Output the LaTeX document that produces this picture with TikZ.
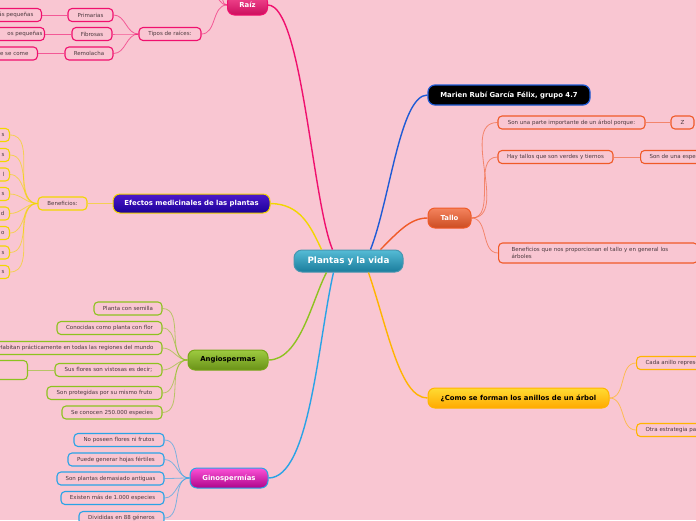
\documentclass[tikz,border=0pt]{standalone}
\usepackage{fontspec}
\setmainfont{DejaVu Sans}
\usetikzlibrary{calc}
\definecolor{bg}{HTML}{F9C6D2}
\definecolor{leaftext}{HTML}{4A383D}
\definecolor{pinkc}{HTML}{F0106E}
\definecolor{yelc}{HTML}{F2D600}
\definecolor{bluec}{HTML}{1E5BD6}
\definecolor{orc}{HTML}{F05A28}
\definecolor{greenc}{HTML}{8DC21F}
\definecolor{skyc}{HTML}{29A3E6}
\definecolor{goldc}{HTML}{FFB400}
\definecolor{teal1}{HTML}{55BCD6}
\definecolor{teal2}{HTML}{1A7C9C}
\tikzset{
  leafbox/.style={draw, line width=1.1pt, rounded corners=4pt, fill=bg, inner sep=0pt,
    minimum height=13pt, text=leaftext, font=\fontsize{5.5}{6.5}\selectfont},
  topic/.style={rounded corners=7pt, line width=1pt, inner sep=0pt, minimum height=20pt,
    font=\bfseries\fontsize{6.9}{8}\selectfont},
  mainlink/.style={line width=1.4pt},
  sublink/.style={line width=0.8pt, opacity=0.6},
}
\begin{document}
\begin{tikzpicture}[x=1pt,y=-1pt]
\useasboundingbox (0,0) rectangle (696,520);
\clip (0,0) rectangle (696,520);
\fill[bg] (0,0) rectangle (696,520);

% ---------- main ----------
\node[topic, top color=teal1, bottom color=teal2, draw=teal2!80!white, text=white,
  minimum width=109pt, minimum height=22pt, rounded corners=8pt,
  font=\bfseries\fontsize{8.8}{10}\selectfont] (main) at (348.5,261) {Plantas y la vida};

% ---------- Raiz ----------
\node[topic, top color=pinkc!75!white, bottom color=pinkc!85!black, draw=pinkc, text=white,
  minimum width=40pt] (raiz) at (247.5,5) {Raíz};
\node[leafbox, draw=pinkc, minimum width=62pt] (tipos) at (170,34) {Tipos de raíces:};
\node[leafbox, draw=pinkc, minimum width=45pt] (prim) at (90.5,15) {Primarias};
\node[leafbox, draw=pinkc, minimum width=40pt] (fib) at (92,34) {Fibrosas};
\node[leafbox, draw=pinkc, minimum width=48pt] (rem) at (89,53.5) {Remolacha};
\node[leafbox, draw=pinkc, anchor=east, text width=60pt, align=right, inner xsep=8pt] (r1) at (42,15) {ás pequeñas};
\node[leafbox, draw=pinkc, anchor=east, text width=60pt, align=right, inner xsep=2pt] (r2) at (45,34) {os pequeñas};
\node[leafbox, draw=pinkc, anchor=east, text width=60pt, align=right, inner xsep=9pt] (r3) at (38,53.5) {e se come};
\coordinate (rup1) at (212,-8);
\coordinate (rup2) at (220,-8);

% ---------- Marien ----------
\node[topic, fill=black, draw=bluec, line width=1.2pt, text=white, minimum width=162pt] (marien) at (509,95) {Marien Rubí García Félix, grupo 4.7};

% ---------- Tallo ----------
\node[topic, top color=orc!75!white, bottom color=orc!85!black, draw=orc, text=white,
  minimum width=43pt] (tallo) at (449.5,218) {Tallo};
\node[leafbox, draw=orc, minimum width=147pt] (t1) at (571.5,122.5) {Son una parte importante de un árbol porque:};
\node[leafbox, draw=orc, minimum width=23pt] (t1a) at (682.5,122.5) {Z};
\node[leafbox, draw=orc, minimum width=115pt] (t2) at (555.5,157) {Hay tallos que son verdes y tiernos};
\node[leafbox, draw=orc, anchor=west, text width=80pt, align=left, inner xsep=9pt] (t2a) at (640,157) {Son de una espe};
\node[leafbox, draw=orc, anchor=west, text width=173pt, align=left, inner xsep=13pt,
  minimum height=20pt, font=\fontsize{5.5}{6.6}\selectfont] (t3) at (498,253)
  {Beneficios que nos proporcionan el tallo y en general los\\árboles};

% ---------- Anillos ----------
\node[topic, top color=goldc!60!yellow!80!white, bottom color=goldc!80!orange, draw=goldc, text=black,
  minimum width=181pt] (anillos) at (518.5,398) {¿Como se forman los anillos de un árbol};
\node[leafbox, draw=goldc, anchor=west, text width=80pt, align=left, inner xsep=9pt] (a1) at (636,363) {Cada anillo represe};
\node[leafbox, draw=goldc, anchor=west, text width=80pt, align=left, inner xsep=9pt] (a2) at (636,430) {Otra estrategia pa};

% ---------- Efectos ----------
\node[topic, top color=blue!55!violet!90!white, bottom color=blue!70!violet!70!black, draw=yelc, text=white,
  minimum width=157pt, minimum height=19pt] (efectos) at (191.5,203.5) {Efectos medicinales de las plantas};
\node[leafbox, draw=yelc, minimum width=49pt] (benef) at (62.5,203.5) {Beneficios:};
\foreach \i/\yy/\t in {1/135/s,2/155/s,3/174.5/l,4/194/s,5/213.5/d,6/233/o,7/252.5/s,8/272/s}{
  \node[leafbox, draw=yelc, anchor=east, text width=40pt, align=right, inner xsep=5pt] (e\i) at (10,\yy) {\t};
}

% ---------- Angiospermas ----------
\node[topic, top color=greenc!85!white, bottom color=greenc!75!black, draw=greenc!85!black, text=black,
  minimum width=80pt] (angio) at (228,360) {Angiospermas};
\node[leafbox, draw=greenc, minimum width=68pt] (g1) at (128,308.5) {Planta con semilla};
\node[leafbox, draw=greenc, minimum width=105pt] (g2) at (109.5,328) {Conocidas como planta con flor};
\node[leafbox, draw=greenc, minimum width=172pt] (g3) at (76,348) {Habitan prácticamente en todas las regiones del mundo};
\node[leafbox, draw=greenc, minimum width=107pt] (g4) at (108.5,370) {Sus flores son vistosas es decir;};
\node[leafbox, draw=greenc, anchor=east, minimum width=60pt, minimum height=19pt] (g4a) at (28,370) {};
\node[leafbox, draw=greenc, minimum width=115pt] (g5) at (104.5,393) {Son protegidas por su mismo fruto};
\node[leafbox, draw=greenc, minimum width=100pt] (g6) at (112,412.5) {Se conocen 250.000 especies};

% ---------- Ginospermias ----------
\node[topic, top color=magenta!60!pinkc!70!white, bottom color=magenta!60!pinkc!70!black, draw=skyc, text=white,
  minimum width=78pt] (gino) at (229,478) {Ginospermías};
\node[leafbox, draw=skyc, minimum width=90pt] (n1) at (119,440) {No poseen flores ni frutos};
\node[leafbox, draw=skyc, minimum width=96pt] (n2) at (116,459.5) {Puede generar hojas fértiles};
\node[leafbox, draw=skyc, minimum width=107pt] (n3) at (110.5,478.5) {Son plantas demasiado antiguas};
\node[leafbox, draw=skyc, minimum width=103pt] (n4) at (112.5,498) {Existen más de 1.000 especies};
\node[leafbox, draw=skyc, minimum width=85pt] (n5) at (121.5,518) {Divididas en 88 géneros};

% ---------- main links ----------
\draw[mainlink, pinkc] ($(main.north)+(-16,0)$) .. controls (312,200) and (302,6) .. (raiz.east);
\draw[mainlink, yelc] ($(main.north)+(-27,0)$) .. controls (310,225) and (300,204) .. (efectos.east);
\draw[mainlink, bluec] ($(main.north)+(22,0)$) .. controls (390,200) and (400,95) .. (marien.west);
\draw[mainlink, orc] ($(main.north)+(32,0)$) .. controls (398,232) and (410,218) .. (tallo.west);
\draw[mainlink, greenc] ($(main.south)+(-22,0)$) .. controls (312,300) and (300,360) .. (angio.east);
\draw[mainlink, skyc] ($(main.south)+(-15,0)$) .. controls (318,340) and (310,478) .. (gino.east);
\draw[mainlink, goldc] ($(main.south)+(20,0)$) .. controls (388,330) and (400,398) .. (anillos.west);

% ---------- sub links ----------
\draw[sublink, pinkc] (tipos.east) to[out=0,in=180] (raiz.west);
\draw[sublink, pinkc] (raiz.west) to[out=180,in=-30] (rup1);
\draw[sublink, pinkc] (raiz.west) to[out=180,in=-50] (rup2);
\foreach \n in {prim,fib,rem}{\draw[sublink, pinkc] (tipos.west) to[out=180,in=0] (\n.east);}
\draw[sublink, pinkc] (prim.west) -- (r1.east);
\draw[sublink, pinkc] (fib.west) -- (r2.east);
\draw[sublink, pinkc] (rem.west) -- (r3.east);

\foreach \n in {t1,t2,t3}{\draw[sublink, orc] (tallo.east) to[out=0,in=180] (\n.west);}
\draw[sublink, orc] (t1.east) -- (t1a.west);
\draw[sublink, orc] (t2.east) -- (t2a.west);

\foreach \n in {a1,a2}{\draw[sublink, goldc] (anillos.east) to[out=0,in=180] (\n.west);}

\draw[sublink, yelc] (efectos.west) -- (benef.east);
\foreach \i in {1,...,8}{\draw[sublink, yelc] (benef.west) to[out=180,in=0] (e\i.east);}

\foreach \n in {g1,g2,g3,g4,g5,g6}{\draw[sublink, greenc] (angio.west) to[out=180,in=0] (\n.east);}
\draw[sublink, greenc] (g4.west) -- (g4a.east);

\foreach \n in {n1,n2,n3,n4,n5}{\draw[sublink, skyc] (gino.west) to[out=180,in=0] (\n.east);}
\end{tikzpicture}
\end{document}
